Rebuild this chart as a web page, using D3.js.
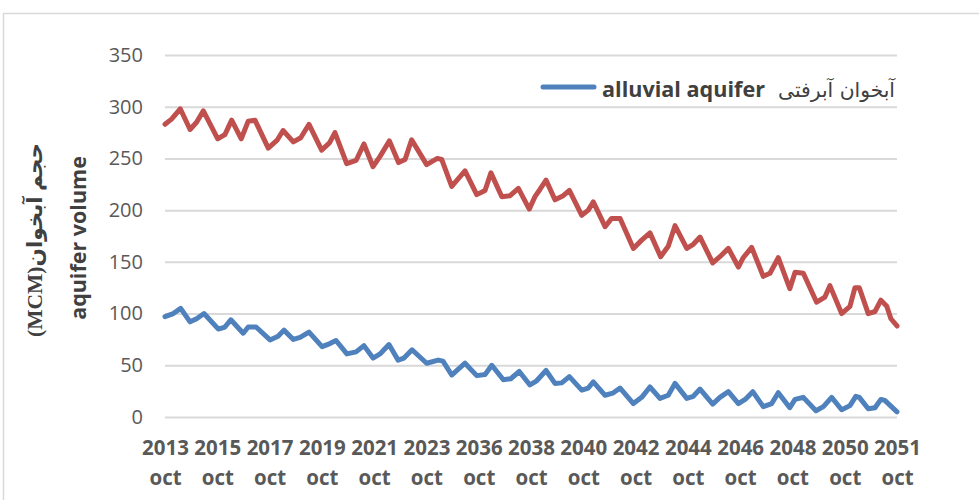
<!DOCTYPE html>
<html>
<head>
<meta charset="utf-8">
<script src="https://cdn.jsdelivr.net/npm/d3@7/dist/d3.min.js"></script>
<style>
  html, body { margin: 0; padding: 0; background: #fff; }
  svg { display: block; }
</style>
</head>
<body>
<svg id="chart" width="979" height="500"></svg>
<script>
// ---- data ----
const tickYears = [2013, 2015, 2017, 2019, 2021, 2023, 2036, 2038, 2040, 2042, 2044, 2046, 2048, 2050, 2051];
const tickMonthLabel = "oct";
const yTicks = [0, 50, 100, 150, 200, 250, 300, 350];
const totalMonths = 336;

const redMonth = [0,3,7,11.5,14.5,17.6,24.2,27.5,30.6,35,38.2,41.3,47.4,51.6,54.2,58.9,62.3,66.1,71.9,75.5,78,83.4,87.7,91.3,95.5,98.7,103,107.2,110.2,113.2,120.1,125,127,131.6,137.7,143.1,146.9,149.6,154.6,158.4,162.2,167.2,169.8,172.1,174.9,179,182.8,185.6,191.3,194.3,196.6,202,205,208.9,215,218.8,222.6,227.5,231,234.1,239.5,242.5,245.6,251.4,254.7,258.6,263.2,265.4,269.3,274.6,277.7,281.5,286.8,289.2,293,299.1,302.9,305.2,310.6,314.4,316.7,318.7,322.8,325.9,328.6,331.3,333.2,336];
const redValue = [283,288,298,278,285,296,269,273,287,269,286,287,260,268,277,266,270,283,258,265,275,245,248,264,242,252,267,246,249,268,244,250,249,223,238,215,219,236,213,214,221,201,213,220,229,210,214,219,195,200,208,184,192,192,163,171,178,155,165,185,163,167,174,149,155,163,145,154,164,136,139,154,124,140,139,111,116,127,100,107,125,125,100,102,113,107,95,88];

const blueMonth = [0,3.8,7.2,11.5,14.5,17.9,24.5,27.5,30.2,35.9,38.2,41.8,48.2,51.9,54.6,58.9,62,66.1,72.1,75.7,78.5,83.5,87.7,91.3,95.5,98.7,102.8,107,109.7,113.4,120.1,125.4,127.6,131.6,137.7,143.1,146.9,150,155.3,158.7,162.6,167.5,170.6,174.9,179,182.1,185.6,191.3,194.3,196.6,202,205.5,208.9,215,218.8,222.6,227.2,231,234.1,239.5,242.5,245.6,251.4,254.7,258.6,263.2,266.3,269.8,274.6,278.5,281.5,286.8,289.2,293,298.8,302.2,306,310.6,314.4,317.1,318.7,322.8,325.9,328.6,330.4,336];
const blueValue = [97,100,105,92,95,100,85,87,94,81,87,87,74.5,78,84,75,77,82,68,71,74,61,63,69,57,61,70,55,57,65,52,55,54,40.6,52,40,41,50,36,37,44,31,35,45,32.5,33,39,26,28,34,21,23,28,13,19,29,18,21,32.5,18,20,27,12.5,19,24.5,13,17,24.5,10,13,23.5,9,17,19,6,10,19,7,11,20,19,8,9,17,16,5];

const legendLabelEn = "alluvial aquifer";
const legendLabelFa = "آبخوان آبرفتی";
const yTitle1 = "(MCM)حجم آبخوان";
const yTitle2 = "aquifer volume";

// ---- layout ----
const svg = d3.select("#chart");
const plotLeft = 165, plotRight = 897, plotTop = 55, plotBottom = 417;
const x = d3.scaleLinear().domain([0, totalMonths]).range([plotLeft, plotRight]);
const y = d3.scaleLinear().domain([0, 350]).range([plotBottom, plotTop]);

// outer border
svg.append("rect").attr("x", 3.5).attr("y", 13.5).attr("width", 1200).attr("height", 1000)
  .attr("fill", "none").attr("stroke", "#d9d9d9").attr("stroke-width", 1.5);

// y axis with gridlines
const yAxis = svg.append("g").attr("transform", `translate(${plotLeft},0)`)
  .call(d3.axisLeft(y).tickValues(yTicks).tickSize(-(plotRight - plotLeft)).tickPadding(22));
yAxis.select(".domain").remove();
yAxis.selectAll(".tick line").attr("stroke", "#d9d9d9").attr("stroke-width", 2);
yAxis.selectAll(".tick text").attr("fill", "#595959")
  .style("font-family", "'Open Sans', sans-serif").style("font-size", "20px");

// x axis labels
const xTicks = tickYears.map((d, i) => i * 24);
const xAxis = svg.append("g").attr("transform", `translate(0,${plotBottom})`)
  .call(d3.axisBottom(x).tickValues(xTicks).tickSize(0).tickFormat(""));
xAxis.select(".domain").remove();
xAxis.selectAll(".tick").each(function(d, i) {
  const t = d3.select(this).append("text").attr("text-anchor", "middle")
    .attr("fill", "#595959")
    .style("font-family", "'Open Sans', sans-serif").style("font-size", "20.5px").style("font-weight", "bold");
  t.append("tspan").attr("x", 0).attr("y", 38).text(tickYears[i]);
  t.append("tspan").attr("x", 0).attr("y", 68).text(tickMonthLabel);
});

// lines
const line = d3.line().x(d => x(d[0])).y(d => y(d[1]));
const redData = redMonth.map((m, i) => [m, redValue[i]]);
const blueData = blueMonth.map((m, i) => [m, blueValue[i]]);
svg.append("path").datum(redData).attr("d", line).attr("fill", "none")
  .attr("stroke", "#C0504D").attr("stroke-width", 5)
  .attr("stroke-linejoin", "round").attr("stroke-linecap", "round");
svg.append("path").datum(blueData).attr("d", line).attr("fill", "none")
  .attr("stroke", "#4F81BD").attr("stroke-width", 5)
  .attr("stroke-linejoin", "round").attr("stroke-linecap", "round");

// legend
svg.append("line").attr("x1", 543).attr("x2", 594).attr("y1", 87).attr("y2", 87)
  .attr("stroke", "#4F81BD").attr("stroke-width", 5).attr("stroke-linecap", "round");
const legEn = svg.append("text").attr("x", 602).attr("y", 97)
  .attr("fill", "#404040")
  .style("font-family", "'Open Sans', sans-serif").style("font-size", "19px").style("font-weight", "bold")
  .text(legendLabelEn);
const wEn = legEn.node().getComputedTextLength();
legEn.style("font-size", (19 * 163 / wEn).toFixed(2) + "px");
const legFa = svg.append("text").attr("x", 895).attr("y", 97).attr("text-anchor", "end")
  .attr("fill", "#404040")
  .style("font-family", "'DejaVu Sans', sans-serif").style("font-size", "17px")
  .text(legendLabelFa);
const wFa = legFa.node().getComputedTextLength();
legFa.style("font-size", (17 * 117 / wFa).toFixed(2) + "px");

// y titles
svg.append("text").attr("transform", "translate(42,240) rotate(-90)")
  .attr("text-anchor", "middle").attr("fill", "#404040")
  .style("font-family", "'Liberation Serif', 'DejaVu Sans', serif").style("font-size", "21.5px").style("font-weight", "bold")
  .text(yTitle1);
svg.append("text").attr("transform", "translate(86,238) rotate(-90)")
  .attr("text-anchor", "middle").attr("fill", "#404040")
  .style("font-family", "'Open Sans', sans-serif").style("font-size", "21.5px").style("font-weight", "bold")
  .text(yTitle2);
</script>
</body>
</html>
